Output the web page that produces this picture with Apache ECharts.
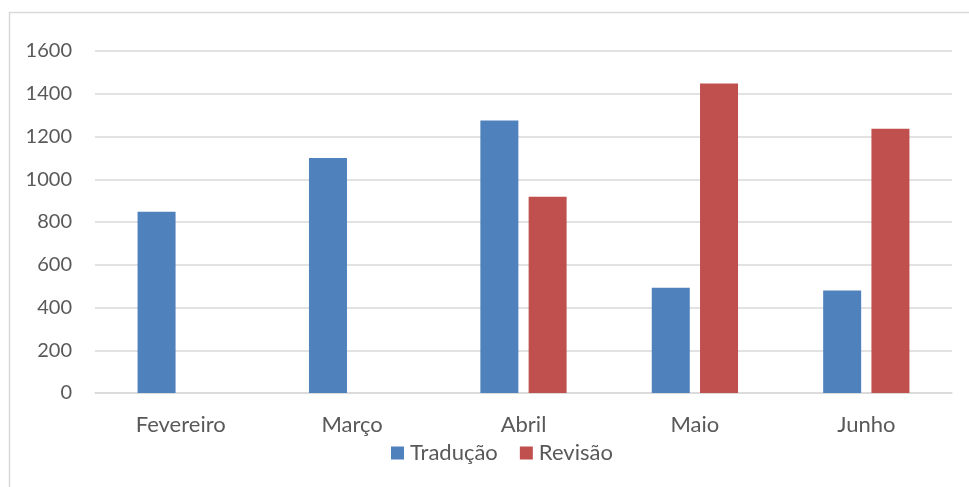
<!DOCTYPE html>
<html>
<head>
<meta charset="utf-8">
<script src="https://cdn.jsdelivr.net/npm/echarts@6/dist/echarts.min.js"></script>
<style>
  html, body { margin: 0; padding: 0; background: #fff; }
  #chart { width: 969px; height: 487px; }
</style>
</head>
<body>
<div id="chart"></div>
<script>
  var months = ["Fevereiro", "Março", "Abril", "Maio", "Junho"];
  var traducao = [848, 1100, 1275, 492, 480];
  var revisao = [null, null, 918, 1448, 1236];

  var myChart = echarts.init(document.getElementById("chart"));
  var labelFont = "Lato, 'Open Sans', sans-serif";
  var option = {
    animation: false,
    grid: {
      left: 95,
      right: 17,
      top: 51,
      bottom: 94
    },
    graphic: [
      {
        type: "rect",
        shape: { x: 9.5, y: 12.5, width: 980, height: 500 },
        style: { fill: "none", stroke: "#d9d9d9", lineWidth: 1.5 },
        silent: true
      }
    ],
    legend: {
      bottom: 18,
      left: 386,
      itemWidth: 13,
      itemHeight: 13,
      itemGap: 22,
      icon: "rect",
      textStyle: { fontFamily: labelFont, fontSize: 22, color: "#595959", padding: [0, 0, 0, 1] },
      data: ["Tradução", "Revisão"]
    },
    xAxis: {
      type: "category",
      data: months,
      axisLine: { lineStyle: { color: "#d9d9d9", width: 1.5 } },
      axisTick: { show: false },
      axisLabel: {
        margin: 21,
        fontFamily: labelFont,
        fontSize: 22,
        color: "#595959"
      }
    },
    yAxis: {
      type: "value",
      min: 0,
      max: 1600,
      interval: 200,
      axisLine: { show: false },
      axisTick: { show: false },
      splitLine: { lineStyle: { color: "#d9d9d9", width: 1.5 } },
      axisLabel: {
        margin: 23,
        fontFamily: labelFont,
        fontSize: 20,
        color: "#595959",
        formatter: function (v) { return String(v); }
      }
    },
    series: [
      {
        name: "Tradução",
        type: "bar",
        data: traducao,
        barWidth: 38,
        barGap: "27%",
        itemStyle: { color: "#4F81BD" }
      },
      {
        name: "Revisão",
        type: "bar",
        data: revisao,
        barWidth: 38,
        itemStyle: { color: "#C0504D" }
      }
    ]
  };
  myChart.setOption(option);
</script>
</body>
</html>
